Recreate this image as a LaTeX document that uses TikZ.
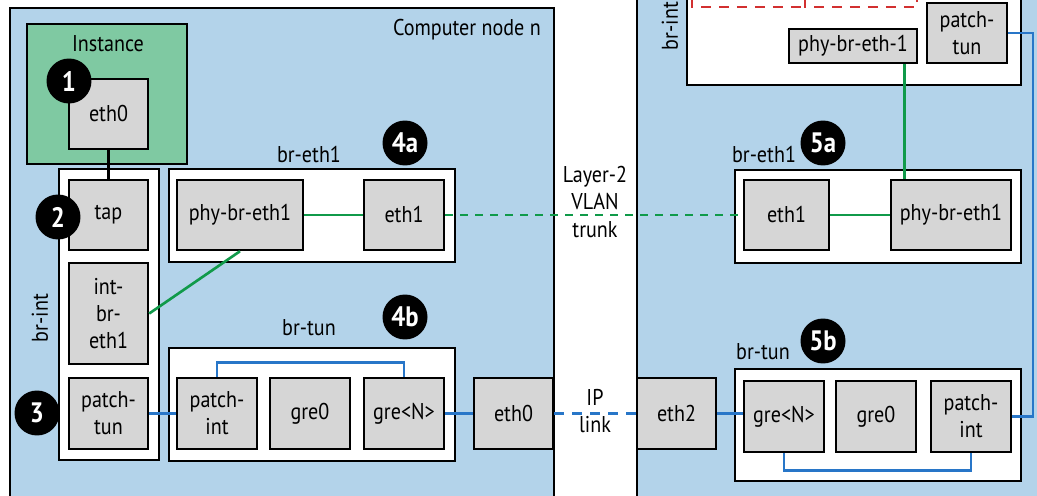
\documentclass[tikz,border=0pt]{standalone}
\usepackage{fontspec}
\setmainfont{PT Sans}[FakeStretch=0.88]
\definecolor{hostblue}{RGB}{179,211,234}
\definecolor{instgreen}{RGB}{127,201,162}
\definecolor{portgray}{RGB}{214,214,214}
\definecolor{vlangreen}{RGB}{16,154,74}
\definecolor{tunblue}{RGB}{40,118,200}
\definecolor{stubred}{RGB}{210,48,48}

\begin{document}
\begin{tikzpicture}[x=0.02cm, y=-0.02cm, font=\fontsize{13}{15.5}\selectfont,
	port/.style 2 args={draw, line width=1.4pt, fill=portgray, align=center, inner sep=0pt, minimum width=#1*0.02cm, minimum height=#2*0.02cm},
	bridge/.style={draw, line width=1.4pt, fill=white},
	badge/.style={circle, fill=black, text=white, font=\fontsize{16}{16}\selectfont\bfseries, inner sep=0pt, minimum size=0.9cm},
	vlan/.style={draw=vlangreen, line width=1.5pt},
	tunnel/.style={draw=tunblue, line width=1.6pt}]
	\useasboundingbox (0,0) rectangle (1037,496);
	\clip (0,0) rectangle (1037,496);
	\draw[fill=hostblue, line width=1.2pt] (10,8) rectangle (554,520);
	\draw[fill=hostblue, line width=1.2pt] (637,-20) rectangle (1060,520);
	\node[anchor=east] (hostn) at (547,30) {Computer node n};

	\draw[fill=instgreen, line width=1.4pt] (27,24) rectangle (187,164);
	\node (inst) at (108,44) {Instance};
	\node[port={79}{70}] (eth0i) at (108.5,114) {eth0};

	\draw[bridge] (59,169) rectangle (159,460);
	\node[rotate=90] (brintl) at (40,318) {br-int};
	\node[port={79}{70}] (tap) at (108.5,215) {tap};
	\node[port={79}{101}] (intbr) at (108.5,313.5) {int-\\br-\\eth1};
	\node[port={79}{71}] (ptunl) at (108.5,413.5) {patch-\\tun};

	\draw[bridge] (169,169) rectangle (455,262);
	\node (brethl) at (309,155) {br-eth1};
	\node[port={126}{70}] (phyl) at (240,215) {phy-br-eth1};
	\node[port={80}{70}] (ethl) at (404,215) {eth1};

	\draw[bridge] (169,348) rectangle (455,461);
	\node (brtunl) at (309,328) {br-tun};
	\node[port={80}{71}] (pintl) at (217,413.5) {patch-\\int};
	\node[port={80}{71}] (grezl) at (310,413.5) {gre0};
	\node[port={80}{71}] (grenl) at (404,413.5) {gre<N>};
	\node[port={79}{71}] (ethzm) at (513.5,413.5) {eth0};

	\node[align=center] (trunk) at (595,202) {Layer-2\\VLAN\\trunk};
	\node[align=center] (iplink) at (595,411) {IP\\link};

	\draw[bridge] (687,-20) rectangle (1021,85);
	\draw[stubred, line width=1.3pt, dash pattern=on 0.2cm off 0.16cm] (692,-20) rectangle (802,7);
	\draw[stubred, line width=1.3pt, dash pattern=on 0.2cm off 0.16cm] (805,-20) rectangle (917,7);
	\node[rotate=90] (brintr) at (670,26) {br-int};
	\node[port={128}{34}] (phyt) at (853,46) {phy-br-eth-1};
	\node[port={80}{60}] (ptunr) at (967,33) {patch-\\tun};

	\draw[bridge] (735,170) rectangle (1021,263);
	\node (brethr) at (764,155) {br-eth1};
	\node[port={85}{70}] (ethr) at (786.5,215) {eth1};
	\node[port={120}{70}] (phyr) at (951,215) {phy-br-eth1};

	\draw[bridge] (735,369) rectangle (1021,481);
	\node (brtunr) at (763,352) {br-tun};
	\node[port={80}{71}] (grenr) at (784,416.5) {gre<N>};
	\node[port={80}{71}] (grezr) at (876,416.5) {gre0};
	\node[port={80}{71}] (pintr) at (971,416.5) {patch-\\int};
	\node[port={79}{71}] (eth2) at (676.5,413.5) {eth2};

	\draw[line width=1.4pt] (eth0i) -- (tap);
	\draw[vlan] (phyl) -- (ethl);
	\draw[vlan] (intbr.east) -- (phyl.south);
	\draw[vlan, dash pattern=on 0.16cm off 0.14cm] (ethl) -- (ethr);
	\draw[vlan] (ethr) -- (phyr);
	\coordinate (drop) at ([xshift=-0.28cm]phyt.south east);
	\draw[vlan] (drop) -- (drop |- phyr.north);

	\draw[tunnel] (ptunl) -- (pintl);
	\draw[tunnel] (pintl.north) -- ++(0,-14) -| (grenl.north);
	\draw[tunnel] (grenl) -- (ethzm);
	\draw[tunnel, dash pattern=on 0.2cm off 0.16cm] (ethzm) -- (eth2);
	\draw[tunnel] (eth2.east) -- (eth2.east -| grenr.west);
	\draw[tunnel] (grenr.south) -- ++(0,17) -| (pintr.south);
	\coordinate (rail) at (1033,0);
	\draw[tunnel] (ptunr.east) -| (rail |- pintr.east) -- (pintr.east);

	\node[badge] (b1) at (69,81) {1};
	\node[badge] (b2) at (58,217) {2};
	\node[badge] (b3) at (37,413) {3};
	\node[badge] (b4a) at (405,143) {4a};
	\node[badge] (b4b) at (405,317) {4b};
	\node[badge] (b5a) at (823,143) {5a};
	\node[badge] (b5b) at (823,341) {5b};
\end{tikzpicture}
\end{document}
